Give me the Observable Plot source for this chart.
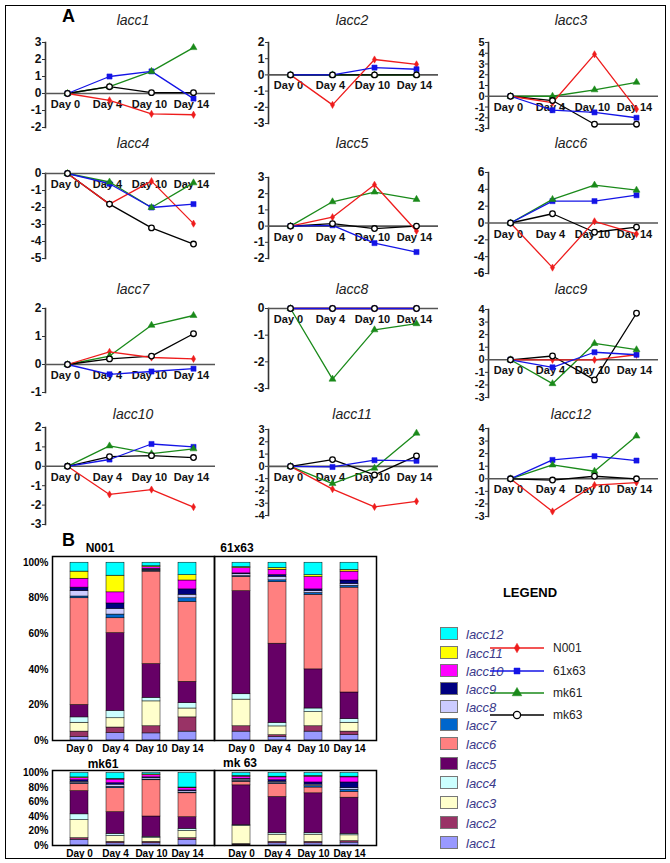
<!DOCTYPE html>
<html><head><meta charset="utf-8">
<script src="https://cdn.jsdelivr.net/npm/d3@7"></script>
<script src="https://cdn.jsdelivr.net/npm/@observablehq/plot@0.6"></script>
<style>
body{margin:0;background:#fff;font-family:"Liberation Sans",Arial,sans-serif;}
#page{position:relative;width:670px;height:863px;overflow:hidden;background:#fff;}
.abs{position:absolute;white-space:nowrap;}
svg{overflow:visible;}
</style></head><body><div id="page"></div>
<script>
// ---------- DATA ----------
const days = ["Day 0","Day 4","Day 10","Day 14"];
const seriesNames = ["N001","61x63","mk61","mk63"];
const genes = ["lacc1","lacc2","lacc3","lacc4","lacc5","lacc6","lacc7","lacc8","lacc9","lacc10","lacc11","lacc12"];
// part A: relative expression per gene (rows) over days
const n001 = [[0,-0.4,-1.2,-1.25],[0,-1.85,0.95,0.65],[0,-0.6,3.9,-1.2],[0,-1.8,-0.45,-2.95],[0,0.55,2.55,-0.3],[0,-5.3,0.2,-1.3],
  [0,0.45,0.25,0.2],[0,0,0,0],[0,0,0,0.4],[0,-1.45,-1.2,-2.1],[0,-1.85,-3.3,-2.85],[0,-2.6,-0.5,-0.3]];
const x6163 = [[0,1.0,1.3,-0.3],[0,0,0.45,0.35],[0,-1.3,-1.5,-2.0],[0,-0.6,-2.0,-1.8],[0,0.05,-1.05,-1.6],[0,2.6,2.6,3.3],
  [0,-0.35,-0.25,-0.15],[0,0,0,0],[0,-0.6,0.6,0.4],[0,0.35,1.15,1.0],[0,-0.05,0.5,0.45],[0,1.5,1.8,1.45]];
const mk61 = [[0,0.4,1.3,2.7],[0,0,0,0],[0,0,0.6,1.3],[0,-0.5,-2.0,-0.55],[0,1.5,2.1,1.65],[0,2.8,4.5,3.9],
  [0,0.3,1.4,1.75],[0,-2.65,-0.8,-0.57],[0,-1.9,1.3,0.8],[0,1.05,0.65,0.9],[0,-1.4,-0.15,2.7],[0,1.1,0.6,3.4]];
const mk63 = [[0,0.4,0.05,0.05],[0,0,0,0],[0,-0.4,-2.6,-2.6],[0,-1.8,-3.2,-4.15],[0,0.15,-0.15,0],[0,1.1,-1.1,-0.5],
  [0,0.2,0.3,1.1],[0,0,0,0],[0,0.3,-1.6,3.7],[0,0.5,0.55,0.45],[0,0.55,-0.7,0.85],[0,-0.1,0.2,0]];
const yTop = [3,2,5,0,3,6,2,0,4,2,3,4];
const yBottom = [-2,-3,-3,-5,-2,-6,-1,-3,-3,-3,-4,-3];
const yStep = [1,1,1,1,1,2,1,1,1,1,1,1];
// part B: composition (%) lacc1..lacc12 per day
const compN001 = [[2,3,5,3,7,60,1,3,2,5,4,5],[4,3,5,4,42,8,2,3,3,6,9,7],[4,4,14,2,19,52,0.5,0.5,0.5,1,0.5,2],[5,8,5,3,12,45,2,2,3,5,3,7]];
const comp6163 = [[5,3,15,3,58,8,0.5,1,0.5,3,0.5,2.5],[2,1,5,2,45,35,1,2,1,3,1,3],[5,3,8,2,22,42,1,1,1,7,1,7],[3,2,5,2,15,59,1,1,2,5,1,4]];
const compMk61 = [[8,2,25,8,32,10,1,2,2,3,1,6],[3,2,8,3,30,33,2,3,2,5,1,8],[3,2,5,2,28,50,1,2,1,3,1,2],[8,2,10,3,16,33,1,2,1,3,1,20]];
const compMk63 = [[1,1,25,1,55,5,1,2,1,3,1,4],[3,2,10,2,50,18,1,2,2,4,1,5],[3,2,10,2,55,8,2,2,3,8,1,4],[4,2,8,2,50,8,3,2,8,7,1,5]];

// ---------- STYLE ----------
const lineColors = ["#ee1c1c","#1414e6","#1a8a1a","#000000"];
const symbols = ["diamond","square","triangle","circle"];
const symR = [2.2, 2.9, 2.6, 2.8];
const geneColors = ["#9999ff","#993366","#ffffcc","#ccffff","#660066","#ff8080","#0066cc","#ccccff","#000080","#ff00ff","#ffff00","#00ffff"];

const page = document.getElementById("page");
function addText(txt, x, y, style, anchor){
  const d = document.createElement("div");
  d.className = "abs"; d.textContent = txt;
  d.style.cssText += style;
  d.style.left = x+"px"; d.style.top = y+"px";
  d.style.transform = anchor || "translate(-50%,-50%)";
  page.appendChild(d); return d;
}
function place(el, x, y){ el.style.position="absolute"; el.style.left=x+"px"; el.style.top=y+"px"; page.appendChild(el); }

// outer border
const border = document.createElement("div");
border.style.cssText = "position:absolute;left:5px;top:5px;width:659px;height:852px;border:1px solid #000;";
page.appendChild(border);

addText("A", 62, 16, "font-weight:bold;font-size:18px;", "translate(0,-50%)");
addText("B", 62, 540, "font-weight:bold;font-size:18px;", "translate(0,-50%)");

// ---------- PART A ----------
const panelPos = [{top:42,bot:127},{top:42,bot:123},{top:42,bot:128},
 {top:173,bot:258},{top:177,bot:258},{top:172,bot:273},
 {top:308,bot:392},{top:308,bot:388},{top:309,bot:397},
 {top:427,bot:524},{top:429,bot:515},{top:428,bot:516}];
const colLeft=[0,220,440], axisOff=[45,48,48], axisEnd=[215,218,218];
const titleY=[20,143,289,414], titleX=[133,352,571];
const allVals = [n001, x6163, mk61, mk63];

genes.forEach((g, i) => {
  const col = i % 3, row = Math.floor(i/3);
  const pp = panelPos[i];
  const data = seriesNames.flatMap((s, si) => days.map((d, di) => ({series: s, si, day: d, value: allVals[si][i][di]})));
  const ticks = d3.range(yBottom[i], yTop[i] + 0.001, yStep[i]);
  const spacing = (pp.bot - pp.top) / (ticks.length - 1);
  const lineOrder = [2,3,0,1], dotOrder = [0,1,2,3];
  const pad = 10;
  const svg = Plot.plot({
    width: 220, height: (pp.bot - pp.top) + 2*pad,
    marginTop: pad, marginBottom: pad, marginLeft: axisOff[col], marginRight: 220 - axisEnd[col],
    style: {background: "transparent", fontFamily: "Liberation Sans, Arial, sans-serif", overflow: "visible"},
    x: {type: "point", domain: days, padding: 0.52, axis: null},
    y: {domain: [yBottom[i], yTop[i]], axis: null},
    marks: [
      Plot.frame({anchor: "left", stroke: "#333", strokeWidth: 1.6}),
      Plot.axisY({ticks, tickSize: 3, tickPadding: 1, fontSize: spacing < 13 ? 11 : 12, fontWeight: "bold", label: null, tickFormat: d => String(d), stroke: "#333", fill: "#111"}),
      Plot.ruleY([0], {stroke: "#555", strokeWidth: 1.6}),
      Plot.text(days, {x: d => d, y: () => 0, text: d => d, dy: 11, dx: -2, fontWeight: "bold", fontSize: 11, fill: "#111"}),
      ...lineOrder.map(si => Plot.line(data.filter(d => d.si === si), {x: "day", y: "value", stroke: lineColors[si], strokeWidth: 1.3})),
      ...dotOrder.map(si => Plot.dot(data.filter(d => d.si === si), {x: "day", y: "value", symbol: symbols[si],
        r: symR[si], fill: si === 3 ? "white" : lineColors[si], stroke: lineColors[si], strokeWidth: si === 3 ? 1.3 : 0.5}))
    ]
  });
  place(svg, colLeft[col], pp.top - pad);
  addText(g, titleX[col], titleY[row], "font-style:italic;font-size:14px;color:#222;");
});

// ---------- PART B ----------
const groupsTop = [["N001", compN001], ["61x63", comp6163]];
const groupsBot = [["mk61", compMk61], ["mk 63", compMk63]];
function barChart(groups, boxTop, boxBot){
  const data = groups.flatMap(([gname, comp]) => comp.flatMap((vals, di) => vals.map((v, gi) => ({group: gname, day: days[di], gene: genes[gi], value: v}))));
  const left = 8, boxL = 52, boxR = 376;
  const svg = Plot.plot({
    width: boxR - left, height: (boxBot - boxTop) + 24,
    marginTop: 0, marginBottom: 24, marginLeft: boxL - left, marginRight: 0,
    style: {background: "transparent", fontFamily: "Liberation Sans, Arial, sans-serif", overflow: "visible"},
    fx: {domain: groups.map(g => g[0]), padding: 0, axis: null},
    x: {domain: days, padding: 0.5, label: null},
    y: {domain: [0, 1.035], label: null},
    color: {domain: genes, range: geneColors},
    marks: [
      Plot.barY(data, Plot.stackY({offset: "normalize"}, {fx: "group", x: "day", y: "value", fill: "gene", stroke: "#000", strokeWidth: 0.5})),
      Plot.frame({stroke: "#000", strokeWidth: 1.5}),
      Plot.axisY({ticks: [0,0.2,0.4,0.6,0.8,1], tickSize: 0, tickPadding: 4, fontSize: 10, fontWeight: "bold", label: null, tickFormat: d => Math.round(d*100) + "%"}),
      Plot.axisX({tickSize: 0, tickPadding: 4, fontSize: 10, fontWeight: "bold", label: null})
    ]
  });
  place(svg, left, boxTop);
}
barChart(groupsTop, 556, 740);
barChart(groupsBot, 770, 845);
addText("N001", 100, 548, "font-weight:bold;font-size:12px;");
addText("61x63", 237, 548, "font-weight:bold;font-size:12px;");
addText("mk61", 103, 764, "font-weight:bold;font-size:12px;");
addText("mk 63", 240, 763, "font-weight:bold;font-size:12px;");

// ---------- LEGENDS ----------
addText("LEGEND", 530, 592, "font-weight:bold;font-size:13px;");
const legendY = [843,823,803,783,764,744,725,707,689,671,653,634];
genes.forEach((g, gi) => {
  const sw = document.createElement("div");
  sw.style.cssText = `position:absolute;left:440px;top:${legendY[gi]-7}px;width:18px;height:13px;background:${geneColors[gi]};border:1px solid #777;box-sizing:border-box;`;
  page.appendChild(sw);
  addText(g, 466, legendY[gi], "font-style:italic;font-size:13px;color:#3a3a8a;", "translate(0,-50%)");
});
const lineLegY = [648,671,693,715];
const legSize = [26, 36, 40, 40];
seriesNames.forEach((s, si) => {
  const svg = d3.create("svg").attr("width", 56).attr("height", 14).style("position","absolute").style("left","490px").style("top",(lineLegY[si]-7)+"px");
  svg.append("line").attr("x1",0).attr("x2",54).attr("y1",7).attr("y2",7).attr("stroke",lineColors[si]).attr("stroke-width",1.3);
  const sym = {diamond: d3.symbolDiamond, square: d3.symbolSquare, triangle: d3.symbolTriangle, circle: d3.symbolCircle}[symbols[si]];
  svg.append("path").attr("d", d3.symbol(sym, legSize[si])()).attr("transform","translate(27,7)")
    .attr("fill", si === 3 ? "white" : lineColors[si]).attr("stroke", lineColors[si]).attr("stroke-width", si===3?1.3:0.5);
  page.appendChild(svg.node());
  addText(s, 553, lineLegY[si], "font-size:12px;color:#222;", "translate(0,-50%)");
});
</script></body></html>
